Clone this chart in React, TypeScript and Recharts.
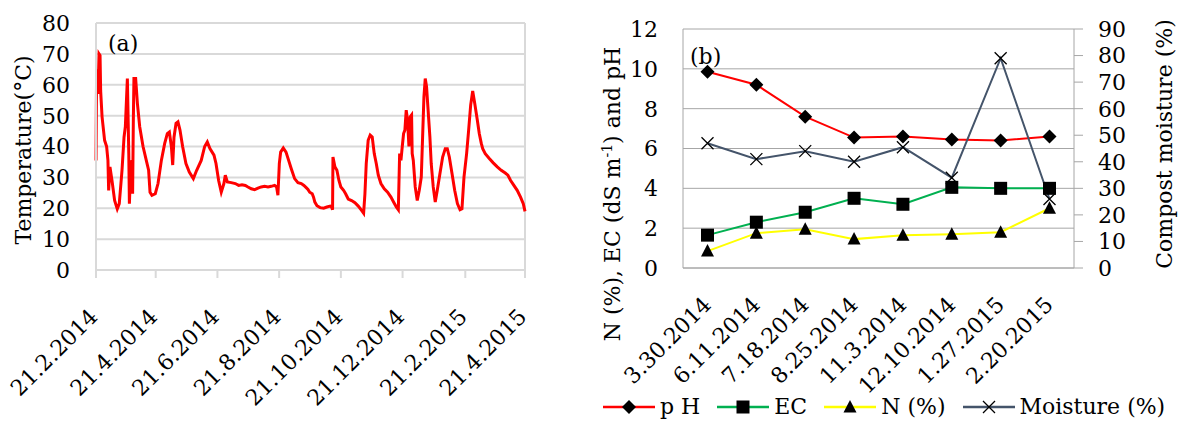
import React from "react";
import {
  LineChart,
  Line,
  XAxis,
  YAxis,
  CartesianGrid,
  ReferenceLine,
} from "recharts";

const FONT = '"DejaVu Serif", serif';

// (a) compost temperature, days after 21.2.2014
const tempDay = [
  0, 0.6, 2, 3, 4, 4.6, 6, 8.5, 10.5, 11.8, 12.5, 13.8, 15.8, 18.4, 21, 23, 25.7, 27.7, 29, 31,
  32.4, 33, 34.3, 35.6, 36.2, 36.9, 37.5, 39.2, 40.9, 43.2, 46.5, 49.7, 52, 53.4, 55.3, 58.6,
  61.3, 64.6, 67.9, 70.5, 72.5, 74.5, 75.8, 77.1, 79.1, 81, 83, 85.6, 88.9, 92.2, 96.2, 99.5,
  104, 107.4, 110, 112.6, 116.6, 118.6, 121.2, 123.8, 126.4, 127.8, 129.8, 133.7, 137.7, 141,
  144.3, 147.6, 150.2, 153.5, 156.8, 160.1, 163.3, 166.7, 170, 173.2, 176.5, 178.5, 179.8,
  181.2, 182.5, 185.1, 187.8, 190.4, 193, 196.3, 199.6, 202.9, 205.5, 208, 209.5, 211.2, 213.7,
  215, 216.3, 218.4, 221.5, 225, 228.2, 231.5, 232.8, 233.8, 234.2, 236.1, 238.1, 240.1, 242,
  244.7, 246.7, 249.3, 252.6, 255.9, 259.2, 262.5, 264.5, 265.8, 267.1, 269, 271, 273, 275,
  277, 279, 281.6, 284.9, 288.2, 291.5, 294.1, 296.8, 298.8, 300.1, 301.4, 302.7, 304, 305.3,
  306.6, 307.9, 309.3, 310.6, 311.9, 312.5, 313.6, 315.5, 317.5, 319.5, 321.5, 322.8, 324.1,
  325.4, 326.7, 328, 330, 331.3, 333.3, 335.3, 337.3, 339.9, 342.6, 345.2, 347.2, 349.2, 351.9,
  354.5, 357.2, 359.8, 361.7, 363.7, 366.3, 368.3, 370.3, 372.3, 374.3, 376.9, 378.8, 380.8,
  382.2, 384.7, 388.7, 392.6, 396.6, 400.5, 404.5, 407.1, 409.8, 413, 416.3, 419.6, 422.3, 424,
];
const tempC = [
  35.5, 65, 57, 70, 69.5, 58, 49.6, 42, 40, 35.5, 25.8, 33.4, 29, 22.5, 19.8, 21.5, 32.3, 43,
  46.4, 62, 37.7, 21.5, 33.4, 35.5, 24.7, 48.5, 62, 62, 54, 46.4, 40, 35.5, 32.3, 25.2, 24.2,
  24.7, 28, 35.5, 41, 44.2, 44.7, 40, 34, 43, 47.5, 48, 45.3, 40, 34.5, 31.7, 29.6, 32.3, 35.5,
  40, 41.5, 39.3, 37.2, 34.5, 29, 25.2, 28, 30.7, 28.5, 28.3, 28, 27.4, 27.6, 27.4, 26.9, 26.3,
  26, 26.5, 26.9, 27.1, 26.9, 27.1, 27.4, 26.9, 24.2, 34.5, 38.2, 39.5, 38.2, 35.5, 32.8, 29.6,
  28.3, 28, 27.4, 26.6, 26.1, 25.2, 24.7, 23.6, 22, 20.8, 20.2, 20, 20.4, 20.7, 20.4, 19.5,
  36.6, 33.4, 32.3, 29, 26.9, 25.8, 24.7, 23, 22.5, 21.8, 20.7, 19.3, 18.4, 24.7, 34.5, 42,
  43.7, 43.1, 37.7, 34.5, 30.7, 28, 26.3, 25.2, 23.6, 22, 20.4, 19.5, 37.7, 35.5, 40, 44.2,
  45.3, 51.8, 48.5, 40, 49.6, 50.2, 37.7, 35.5, 26.9, 22.5, 25.8, 30.1, 43.1, 56, 62, 59.4,
  52.9, 43.1, 34.5, 26.9, 22, 25.8, 31.2, 36.6, 39.3, 39.3, 36.6, 31.2, 25.8, 21.5, 19.5, 19.8,
  30.1, 37.7, 45.3, 53.4, 58, 54, 48.5, 44.2, 41, 39.3, 37.7, 36.1, 34.7, 33.4, 32.3, 31.4,
  30.7, 29, 27.4, 25.8, 23.6, 21.5, 19,
];
const dateTickDays = [0, 59, 120, 181, 242, 303, 365, 424];
const dateTickLabels = [
  "21.2.2014", "21.4.2014", "21.6.2014", "21.8.2014",
  "21.10.2014", "21.12.2014", "21.2.2015", "21.4.2015",
];
const tempTicks = [0, 10, 20, 30, 40, 50, 60, 70, 80];

// (b) compost properties per sampling date
const sampleDates = [
  "3.30.2014", "6.11.2014", "7.18.2014", "8.25.2014",
  "11.3.2014", "12.10.2014", "1.27.2015", "2.20.2015",
];
const pH = [9.85, 9.2, 7.6, 6.55, 6.6, 6.45, 6.4, 6.6];
const ec = [1.65, 2.3, 2.8, 3.5, 3.2, 4.05, 4.0, 4.0];
const nitrogen = [0.85, 1.75, 1.95, 1.45, 1.65, 1.7, 1.8, 3.0];
const moisture = [47, 41, 44, 40, 45.5, 34, 79, 26];
const leftTicks = [0, 2, 4, 6, 8, 10, 12];
const rightTicks = [0, 10, 20, 30, 40, 50, 60, 70, 80, 90];

const tempData = tempDay.map((d, i) => ({ day: d, temp: tempC[i] }));
const propsData = sampleDates.map((d, i) => ({
  date: d,
  pH: pH[i],
  ec: ec[i],
  n: nitrogen[i],
  moisture: moisture[i],
}));

const YTick = (p: any) => (
  <text x={p.x} y={p.y} dy="0.36em" textAnchor={p.align} fontFamily={FONT} fontSize={22} fill="#000">
    {p.payload.value}
  </text>
);

const DateTick = (p: any) => {
  const label = p.labels ? p.labels[p.index] ?? "" : p.payload.value;
  const x = p.x + p.dx2;
  const y = p.y + p.dy2;
  return (
    <text
      x={x}
      y={y}
      textAnchor="end"
      transform={`rotate(-45 ${x} ${y})`}
      fontFamily={FONT}
      fontSize={22}
      fill="#000"
    >
      {label}
    </text>
  );
};

const Diamond = ({ cx, cy }: any) =>
  cx == null ? null : (
    <path d={`M${cx},${cy - 7}L${cx + 7},${cy}L${cx},${cy + 7}L${cx - 7},${cy}Z`} fill="#000" />
  );
const Square = ({ cx, cy }: any) =>
  cx == null ? null : <rect x={cx - 6.5} y={cy - 6.5} width={13} height={13} fill="#000" />;
const Triangle = ({ cx, cy }: any) =>
  cx == null ? null : (
    <path d={`M${cx},${cy - 7}L${cx + 6.5},${cy + 5.5}L${cx - 6.5},${cy + 5.5}Z`} fill="#000" />
  );
const Cross = ({ cx, cy }: any) =>
  cx == null ? null : (
    <path
      d={`M${cx - 6},${cy - 6}L${cx + 6},${cy + 6}M${cx + 6},${cy - 6}L${cx - 6},${cy + 6}`}
      stroke="#000"
      strokeWidth={1.3}
      fill="none"
    />
  );

const text: React.CSSProperties = {
  position: "absolute",
  fontFamily: FONT,
  fontSize: 22,
  color: "#000",
  whiteSpace: "nowrap",
  lineHeight: 1,
};

const rotated = (cx: number, cy: number): React.CSSProperties => ({
  ...text,
  left: cx,
  top: cy,
  transform: "translate(-50%, -50%) rotate(-90deg)",
});

const legendItems = [
  { label: "p H", color: "#ff0000", Marker: Diamond },
  { label: "EC", color: "#00b050", Marker: Square },
  { label: "N (%)", color: "#ffff00", Marker: Triangle },
  { label: "Moisture (%)", color: "#44546a", Marker: Cross },
];

export default function App() {
  return (
    <div style={{ position: "absolute", left: 0, top: 0, width: 1181, height: 421, background: "#fff" }}>
      {/* (a) temperature */}
      <div style={{ position: "absolute", left: 0, top: 0 }}>
        <LineChart width={560} height={421} data={tempData} margin={{ top: 23, right: 35, bottom: 0, left: 0 }}>
          <CartesianGrid vertical={false} stroke="#d9d9d9" strokeWidth={2} />
          <XAxis
            dataKey="day"
            type="number"
            domain={[0, 424]}
            ticks={dateTickDays}
            interval={0}
            height={151}
            axisLine={{ stroke: "#d9d9d9", strokeWidth: 2 }}
            tickLine={{ stroke: "#d9d9d9", strokeWidth: 2 }}
            tickSize={8}
            tickMargin={2}
            tick={<DateTick labels={dateTickLabels} dx2={3} dy2={38} />}
          />
          <YAxis
            domain={[0, 80]}
            ticks={tempTicks}
            width={96}
            axisLine={{ stroke: "#d9d9d9", strokeWidth: 2 }}
            tickLine={false}
            tickSize={0}
            tickMargin={26}
            tick={<YTick align="end" />}
          />
          <ReferenceLine x={424} stroke="#d9d9d9" strokeWidth={2} />
          <Line
            type="linear"
            dataKey="temp"
            stroke="#ff0000"
            strokeWidth={3}
            dot={false}
            isAnimationActive={false}
          />
        </LineChart>
      </div>
      <div style={rotated(24, 150)}>Temperature(°C)</div>
      <div style={{ ...text, left: 108, top: 33 }}>(a)</div>

      {/* (b) compost properties */}
      <div style={{ position: "absolute", left: 590, top: 0 }}>
        <LineChart width={591} height={421} data={propsData} margin={{ top: 29, right: 0, bottom: 0, left: 0 }}>
          <CartesianGrid vertical={false} yAxisId="left" stroke="#a6a6a6" strokeWidth={1} />
          <XAxis
            dataKey="date"
            height={153}
            padding={{ left: 24.5, right: 24.5 }}
            interval={0}
            axisLine={{ stroke: "#a6a6a6" }}
            tickLine={false}
            tickSize={0}
            tickMargin={0}
            tick={<DateTick dx2={5} dy2={38} />}
          />
          <YAxis
            yAxisId="left"
            domain={[0, 12]}
            ticks={leftTicks}
            width={93}
            axisLine={{ stroke: "#a6a6a6" }}
            tickLine={false}
            tickSize={0}
            tickMargin={25}
            tick={<YTick align="end" />}
          />
          <YAxis
            yAxisId="right"
            orientation="right"
            domain={[0, 90]}
            ticks={rightTicks}
            width={107}
            axisLine={{ stroke: "#a6a6a6" }}
            tickLine={{ stroke: "#a6a6a6" }}
            tickSize={9}
            tickMargin={15}
            tick={<YTick align="start" />}
          />
          <Line yAxisId="left" type="linear" dataKey="pH" stroke="#ff0000" strokeWidth={2} dot={<Diamond />} isAnimationActive={false} />
          <Line yAxisId="left" type="linear" dataKey="ec" stroke="#00b050" strokeWidth={2} dot={<Square />} isAnimationActive={false} />
          <Line yAxisId="left" type="linear" dataKey="n" stroke="#ffff00" strokeWidth={2} dot={<Triangle />} isAnimationActive={false} />
          <Line yAxisId="right" type="linear" dataKey="moisture" stroke="#44546a" strokeWidth={2} dot={<Cross />} isAnimationActive={false} />
        </LineChart>
      </div>
      <div style={rotated(612, 194)}>
        N (%), EC (dS m<sup style={{ fontSize: 14, verticalAlign: "8px" }}>-1</sup>) and pH
      </div>
      <div style={rotated(1165, 144)}>Compost moisture (%)</div>
      <div style={{ ...text, left: 690, top: 46 }}>(b)</div>

      {/* legend */}
      <div style={{ position: "absolute", left: 603, top: 396, display: "flex", alignItems: "center" }}>
        {legendItems.map(({ label, color, Marker }, i) => (
          <div key={label} style={{ display: "flex", alignItems: "center", marginLeft: i === 0 ? 0 : 17 }}>
            <svg width={52} height={22}>
              <line x1={0} y1={11} x2={52} y2={11} stroke={color} strokeWidth={2.5} />
              <Marker cx={26} cy={11} />
            </svg>
            <span style={{ fontFamily: FONT, fontSize: 22, marginLeft: 5, lineHeight: 1 }}>{label}</span>
          </div>
        ))}
      </div>
    </div>
  );
}
